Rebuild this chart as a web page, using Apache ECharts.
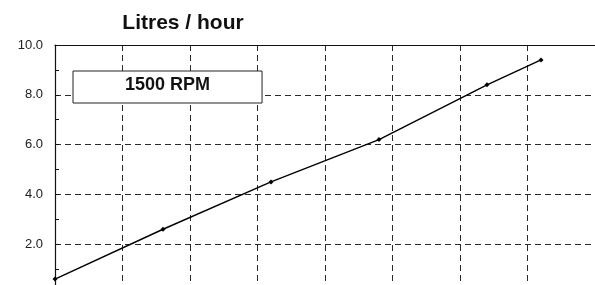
<!DOCTYPE html>
<html>
<head>
<meta charset="utf-8">
<script src="https://cdn.jsdelivr.net/npm/echarts@6/dist/echarts.min.js"></script>
<style>
  html, body { margin: 0; padding: 0; background: #fff; }
  #chart { width: 595px; height: 285px; }
</style>
</head>
<body>
<div id="chart"></div>
<script>
// data
var seriesName = '1500 RPM';
var loadX = [0, 8, 16, 24, 32, 36];
var litres = [0.6, 2.6, 4.5, 6.2, 8.4, 9.4];
var yTicks = [0, 2, 4, 6, 8, 10];

var points = [];
for (var i = 0; i < loadX.length; i++) {
	points.push([loadX[i], litres[i]]);
}

var gridDash = {
	show: true,
	lineStyle: { color: '#2a2a2a', width: 1, type: [6, 4] }
};

var chart = echarts.init(document.getElementById('chart'));

var options = {
	animation: false,
	backgroundColor: '#fff',
	textStyle: { fontFamily: '"Liberation Sans", Arial, sans-serif' },
	title: {
		text: 'Litres / hour',
		left: 178,
		textAlign: 'center',
		top: 8,
		textStyle: { fontSize: 21, fontWeight: 'bold', color: '#111' }
	},
	legend: {
		data: [seriesName],
		left: 73,
		top: 71,
		icon: 'rect',
		itemWidth: 0,
		itemHeight: 0,
		padding: [4, 52, 8, 47],
		borderColor: '#222',
		borderWidth: 1,
		backgroundColor: '#fff',
		selectedMode: false,
		textStyle: { fontSize: 18, fontWeight: 'bold', color: '#111', lineHeight: 20 }
	},
	grid: {
		left: 55,
		top: 45,
		width: 540,
		height: 249,
		outerBoundsMode: 'none',
		containLabel: false
	},
	xAxis: [{
		type: 'value',
		min: 0,
		max: 40,
		interval: 5,
		axisLine: { show: true, lineStyle: { color: '#111' } },
		axisTick: { show: false },
		axisLabel: { show: false },
		splitLine: gridDash
	}, {
		type: 'value',
		position: 'top',
		min: 0,
		max: 40,
		interval: 5,
		axisLine: { show: true, onZero: false, lineStyle: { color: '#111', width: 1.2 } },
		axisTick: { show: false },
		axisLabel: { show: false },
		splitLine: { show: false }
	}],
	yAxis: [{
		type: 'value',
		min: yTicks[0],
		max: yTicks[yTicks.length - 1],
		interval: 2,
		axisLine: { show: true, lineStyle: { color: '#111', width: 1.2 } },
		axisTick: { show: true, inside: true, length: 4, lineStyle: { color: '#111' } },
		minorTick: { show: true, splitNumber: 2, length: 4, lineStyle: { color: '#111' } },
		axisLabel: {
			margin: 12,
			fontSize: 13,
			color: '#222',
			formatter: function (v) { return v.toFixed(1); }
		},
		splitLine: gridDash
	}],
	series: [{
		name: seriesName,
		type: 'line',
		data: points,
		symbol: 'diamond',
		symbolSize: 5,
		itemStyle: { color: '#000' },
		lineStyle: { color: '#000', width: 1.4 }
	}]
};

chart.setOption(options);
</script>
</body>
</html>
